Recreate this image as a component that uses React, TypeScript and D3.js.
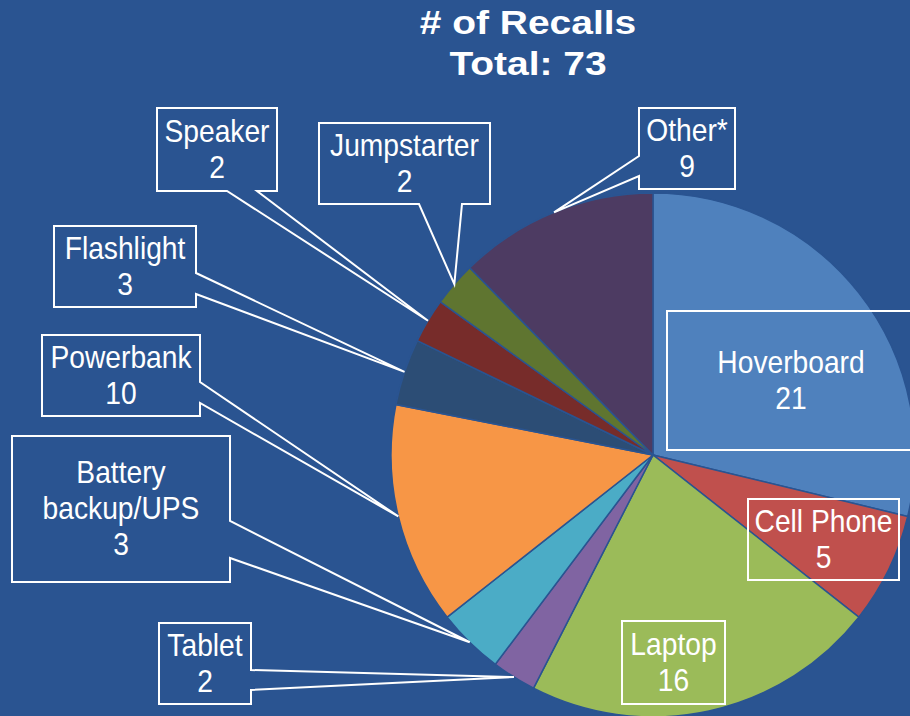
import React, { useEffect, useRef } from 'react';
import * as d3 from 'd3';

// data
const categories = ['Hoverboard', 'Cell Phone', 'Laptop', 'Tablet', 'Battery backup/UPS', 'Powerbank', 'Flashlight', 'Speaker', 'Jumpstarter', 'Other*'];
const recalls = [21, 5, 16, 2, 3, 10, 3, 2, 2, 9];
const sliceColors = ['#4F81BD', '#C0504D', '#9BBB59', '#8064A2', '#4BACC6', '#F79646', '#2C4D75', '#772C2A', '#5F7530', '#4D3B62'];
const labelLines = [['Hoverboard'], ['Cell Phone'], ['Laptop'], ['Tablet'], ['Battery', 'backup/UPS'], ['Powerbank'], ['Flashlight'], ['Speaker'], ['Jumpstarter'], ['Other*']];

// callout boxes (layout), same order as categories
const callouts = [
  { x: 667, y: 311, w: 248, h: 139, side: null, b1: 0, b2: 0 },
  { x: 748, y: 499, w: 151, h: 81, side: null, b1: 0, b2: 0 },
  { x: 622, y: 621, w: 103, h: 83, side: null, b1: 0, b2: 0 },
  { x: 159, y: 623, w: 92, h: 81, side: 'right', b1: 670, b2: 690 },
  { x: 12, y: 436, w: 218, h: 146, side: 'right', b1: 521, b2: 558 },
  { x: 42, y: 335, w: 158, h: 81, side: 'right', b1: 382, b2: 403 },
  { x: 54, y: 226, w: 142, h: 81, side: 'right', b1: 273, b2: 294 },
  { x: 157, y: 108, w: 120, h: 83, side: 'bottom', b1: 227, b2: 257 },
  { x: 319, y: 123, w: 171, h: 81, side: 'bottom', b1: 419, b2: 462 },
  { x: 639, y: 108, w: 96, h: 81, side: 'left', b1: 156, b2: 176 },
];

const total = d3.sum(recalls);
const titleLines = ['# of Recalls', `Total: ${total}`];

const BG = '#2A5491';
const width = 910;
const height = 716;

const calloutPath = (c, tip) => {
  const [tx, ty] = tip;
  const r = c.x + c.w;
  const b = c.y + c.h;
  if (c.side === 'right') {
    return `M${c.x},${c.y}H${r}V${c.b1}L${tx},${ty}L${r},${c.b2}V${b}H${c.x}Z`;
  }
  if (c.side === 'bottom') {
    return `M${c.x},${c.y}H${r}V${b}H${c.b2}L${tx},${ty}L${c.b1},${b}H${c.x}Z`;
  }
  if (c.side === 'left') {
    return `M${c.x},${c.y}H${r}V${b}H${c.x}V${c.b2}L${tx},${ty}L${c.x},${c.b1}Z`;
  }
  return `M${c.x},${c.y}H${r}V${b}H${c.x}Z`;
};

const RecallPie = () => {
  const svgRef = useRef(null);

  useEffect(() => {
    const svg = d3.select(svgRef.current);
    svg.selectAll('*').remove();

    svg.append('rect').attr('width', width).attr('height', height).attr('fill', BG);

    const cx = 653;
    const cy = 455;
    const radius = 262;

    const pie = d3.pie().sort(null).value(d => d)(recalls);
    const arc = d3.arc().innerRadius(0).outerRadius(radius);
    const rim = d3.arc().innerRadius(radius).outerRadius(radius);

    const g = svg.append('g').attr('transform', `translate(${cx},${cy})`);
    g.selectAll('path')
      .data(pie)
      .enter()
      .append('path')
      .attr('d', arc)
      .attr('fill', (d, i) => sliceColors[i])
      .attr('stroke', BG)
      .attr('stroke-width', 1.5);

    // Title (wide bold face, stretched like the slide)
    svg.append('g')
      .selectAll('text')
      .data(titleLines)
      .enter()
      .append('text')
      .attr('transform', (d, i) => `translate(528,${34 + i * 41}) scale(1.18,1)`)
      .attr('text-anchor', 'middle')
      .attr('fill', '#fff')
      .style('font-family', '"Liberation Sans", Arial, sans-serif')
      .style('font-weight', 'bold')
      .style('font-size', '33px')
      .text(d => d);

    // Callouts
    const labels = svg.append('g');
    pie.forEach((d, i) => {
      const c = callouts[i];
      const [px, py] = rim.centroid(d);
      const tip = [cx + px, cy + py];
      labels.append('path')
        .attr('d', calloutPath(c, tip))
        .attr('fill', 'none')
        .attr('stroke', '#fff')
        .attr('stroke-width', 2);

      const lines = [...labelLines[i], String(recalls[i])];
      const mid = c.y + c.h / 2;
      labels.append('g')
        .selectAll('text')
        .data(lines)
        .enter()
        .append('text')
        .attr('transform', (t, k) => `translate(${c.x + c.w / 2},${mid + (k - (lines.length - 1) / 2) * 36 + 10}) scale(0.91,1)`)
        .attr('text-anchor', 'middle')
        .attr('fill', '#fff')
        .style('font-family', '"Liberation Sans", Arial, sans-serif')
        .style('font-size', '31px')
        .text(t => t);
    });
  }, []);

  return <svg ref={svgRef} width={width} height={height} style={{ display: 'block' }} />;
};

export default function App() {
  return (
    <div style={{ position: 'absolute', left: 0, top: 0, width, height, overflow: 'hidden' }}>
      <RecallPie />
    </div>
  );
}
